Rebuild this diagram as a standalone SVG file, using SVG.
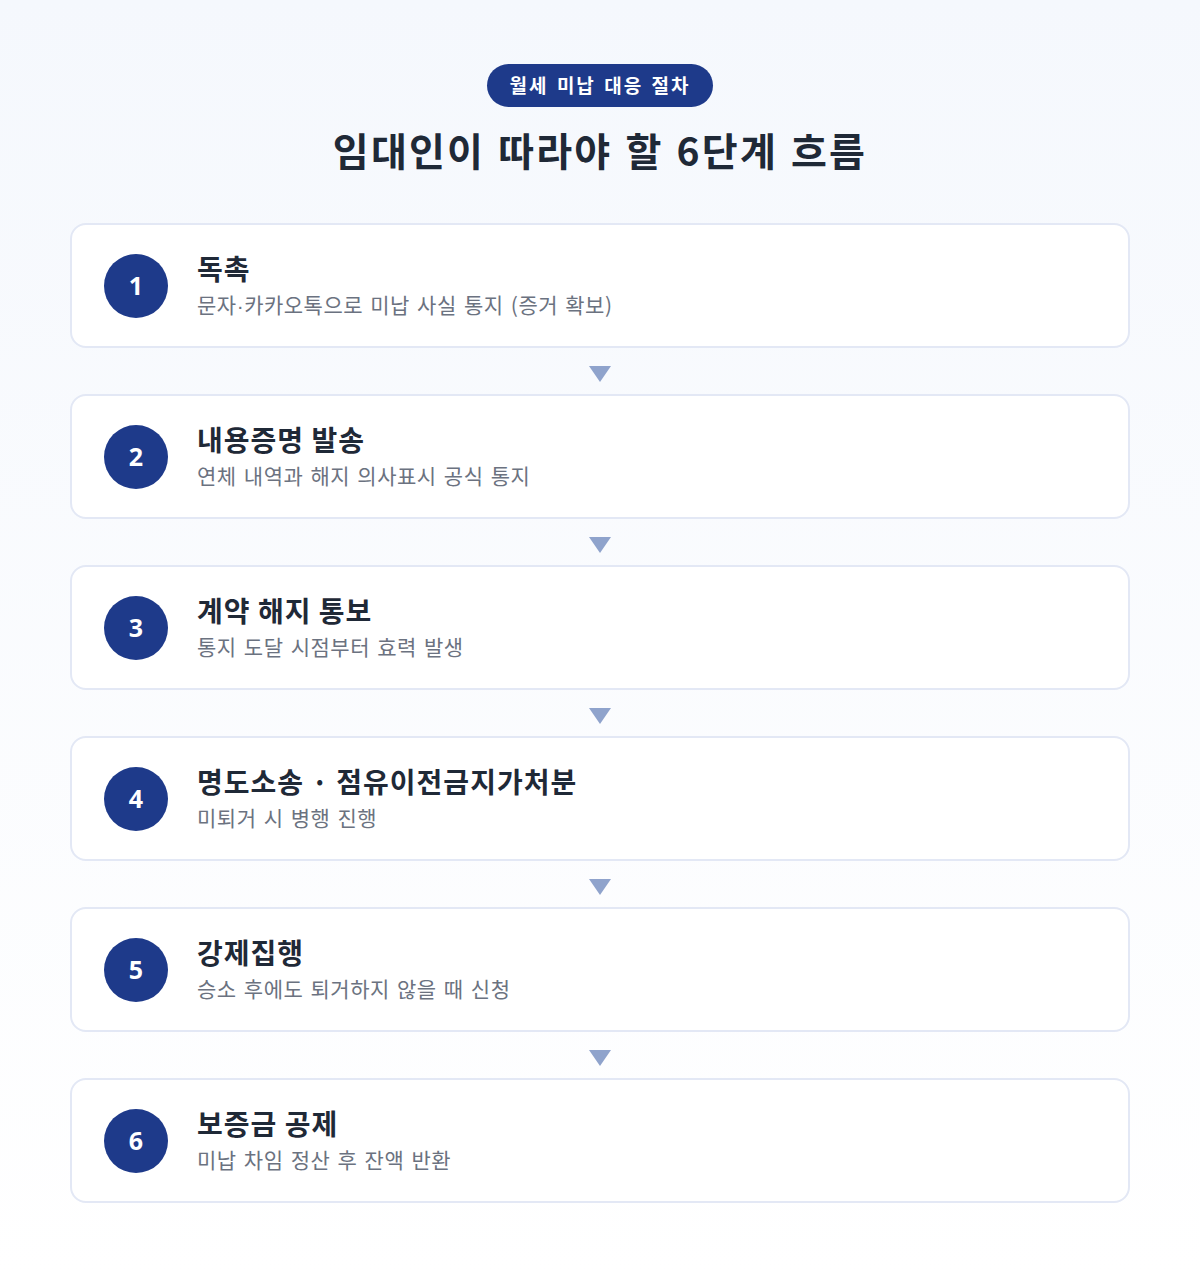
<svg xmlns="http://www.w3.org/2000/svg" width="1200" height="1275" viewBox="0 0 1200 1275">
<defs>
<linearGradient id="bg" x1="0" y1="0" x2="0" y2="1">
<stop offset="0" stop-color="#f5f8fd"/>
<stop offset="1" stop-color="#ffffff"/>
</linearGradient>
<style>
.ko{font-family:"Noto Sans CJK KR","Noto Sans",sans-serif}
.card{fill:#ffffff;stroke:#e3e8f5;stroke-width:2}
.badge{fill:#1e3a8a}
.num{fill:#ffffff;font-family:"Open Sans","Noto Sans",sans-serif;font-weight:700;font-size:25px;text-anchor:middle}
.title{fill:#1f2937;font-weight:700;font-size:28px;letter-spacing:1px}
.sub{fill:#6b7280;font-size:21px;letter-spacing:0.5px;word-spacing:2px}
.arrow{fill:#8fa3cc}
</style>
</defs>
<rect width="1200" height="1275" fill="url(#bg)"/>
<g id="header">
<rect x="487" y="64" width="226" height="43" rx="21.5" fill="#1e3a8a"/>
<text x="600" y="93" class="ko" fill="#ffffff" font-weight="700" font-size="19" text-anchor="middle" letter-spacing="2" word-spacing="2">월세 미납 대응 절차</text>
<text x="600" y="166" class="ko" fill="#1f2937" font-weight="700" font-size="39" text-anchor="middle" letter-spacing="2.2" word-spacing="2">임대인이 따라야 할 6단계 흐름</text>
</g>
<g id="connectors">
<polygon class="arrow" points="589,366 611,366 600,382"/>
<polygon class="arrow" points="589,537 611,537 600,553"/>
<polygon class="arrow" points="589,708 611,708 600,724"/>
<polygon class="arrow" points="589,879 611,879 600,895"/>
<polygon class="arrow" points="589,1050 611,1050 600,1066"/>
</g>
<g id="step1">
<rect class="card" x="71" y="224" width="1058" height="123" rx="15"/>
<circle class="badge" cx="136" cy="286" r="32"/>
<text class="num" x="136" y="295">1</text>
<text class="ko title" x="197" y="280">독촉</text>
<text class="ko sub" x="197" y="313">문자<tspan font-family="Liberation Sans, sans-serif">·</tspan>카카오톡으로 미납 사실 통지 (증거 확보)</text>
</g>
<g id="step2">
<rect class="card" x="71" y="395" width="1058" height="123" rx="15"/>
<circle class="badge" cx="136" cy="457" r="32"/>
<text class="num" x="136" y="466">2</text>
<text class="ko title" x="197" y="451">내용증명 발송</text>
<text class="ko sub" x="197" y="484">연체 내역과 해지 의사표시 공식 통지</text>
</g>
<g id="step3">
<rect class="card" x="71" y="566" width="1058" height="123" rx="15"/>
<circle class="badge" cx="136" cy="628" r="32"/>
<text class="num" x="136" y="637">3</text>
<text class="ko title" x="197" y="622">계약 해지 통보</text>
<text class="ko sub" x="197" y="655">통지 도달 시점부터 효력 발생</text>
</g>
<g id="step4">
<rect class="card" x="71" y="737" width="1058" height="123" rx="15"/>
<circle class="badge" cx="136" cy="799" r="32"/>
<text class="num" x="136" y="808">4</text>
<text class="ko title" x="197" y="793">명도소송 · 점유이전금지가처분</text>
<text class="ko sub" x="197" y="826">미퇴거 시 병행 진행</text>
</g>
<g id="step5">
<rect class="card" x="71" y="908" width="1058" height="123" rx="15"/>
<circle class="badge" cx="136" cy="970" r="32"/>
<text class="num" x="136" y="979">5</text>
<text class="ko title" x="197" y="964">강제집행</text>
<text class="ko sub" x="197" y="997">승소 후에도 퇴거하지 않을 때 신청</text>
</g>
<g id="step6">
<rect class="card" x="71" y="1079" width="1058" height="123" rx="15"/>
<circle class="badge" cx="136" cy="1141" r="32"/>
<text class="num" x="136" y="1150">6</text>
<text class="ko title" x="197" y="1135">보증금 공제</text>
<text class="ko sub" x="197" y="1168">미납 차임 정산 후 잔액 반환</text>
</g>
</svg>
